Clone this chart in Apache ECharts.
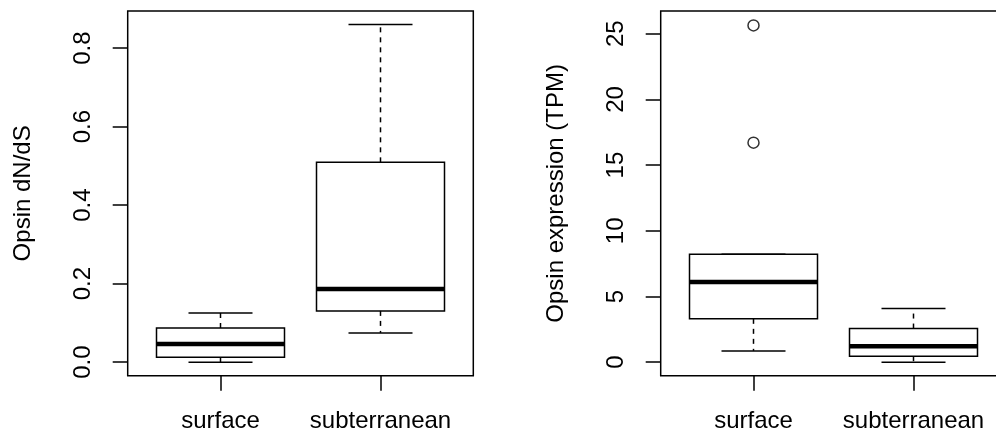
<!DOCTYPE html>
<html>
<head>
<meta charset="utf-8">
<script src="https://cdn.jsdelivr.net/npm/echarts@6/dist/echarts.min.js"></script>
<style>html,body{margin:0;padding:0;background:#fff}#c{width:996px;height:433px}</style>
</head>
<body>
<div id="c"></div>
<script>
// ---- data ----
const categories = ['surface', 'subterranean'];
// [lower whisker, Q1, median, Q3, upper whisker]
const dndsSurface = [0.0, 0.0127, 0.0466, 0.0873, 0.1255];
const dndsSubterranean = [0.0746, 0.1306, 0.1866, 0.509, 0.86];
const tpmSurface = [0.86, 3.30, 6.11, 8.21, 8.21];
const tpmSubterranean = [0.0, 0.46, 1.22, 2.56, 4.08];
const tpmSurfaceOutliers = [25.63, 16.71];
const tpmSubterraneanOutliers = [];
const dndsTicks = [0, 0.2, 0.4, 0.6, 0.8];
const tpmTicks = [0, 5, 10, 15, 20, 25];
const catPositions = [1, 2];

const FONT = 'Liberation Sans, Arial, Helvetica, sans-serif';
const LW = 1.5;

function boxRender(params, api) {
  const x = api.value(0);
  const lo = api.value(1), q1 = api.value(2), med = api.value(3), q3 = api.value(4), hi = api.value(5);
  const cx = api.coord([x, med])[0];
  const yLo = api.coord([x, lo])[1];
  const yQ1 = api.coord([x, q1])[1];
  const yMed = api.coord([x, med])[1];
  const yQ3 = api.coord([x, q3])[1];
  const yHi = api.coord([x, hi])[1];
  const halfBox = api.size([0.4, 0])[0];
  const halfCap = api.size([0.2, 0])[0];
  const stroke = {stroke: '#000', lineWidth: LW, fill: null};
  const dash = {stroke: '#000', lineWidth: LW, lineDash: [5, 5], fill: null};
  return {
    type: 'group',
    children: [
      {type: 'rect', shape: {x: cx - halfBox, y: yQ3, width: 2 * halfBox, height: yQ1 - yQ3}, style: {stroke: '#000', lineWidth: LW, fill: 'none'}},
      {type: 'line', shape: {x1: cx - halfBox, y1: yMed, x2: cx + halfBox, y2: yMed}, style: {stroke: '#000', lineWidth: 4.5, lineCap: 'butt'}},
      {type: 'line', shape: {x1: cx, y1: yQ3, x2: cx, y2: yHi}, style: dash},
      {type: 'line', shape: {x1: cx, y1: yQ1, x2: cx, y2: yLo}, style: dash},
      {type: 'line', shape: {x1: cx - halfCap, y1: yHi, x2: cx + halfCap, y2: yHi}, style: stroke},
      {type: 'line', shape: {x1: cx - halfCap, y1: yLo, x2: cx + halfCap, y2: yLo}, style: stroke}
    ]
  };
}

function xAxisCfg(gi) {
  return {
    type: 'value', gridIndex: gi, min: 0.42, max: 2.58,
    splitLine: {show: false},
    axisLine: {show: false, onZero: false},
    axisTick: {show: true, customValues: catPositions, length: 15, lineStyle: {color: '#000', width: LW}},
    axisLabel: {show: true, customValues: catPositions, formatter: v => categories[Math.round(v) - 1], fontSize: 24, color: '#000', fontFamily: FONT, margin: 34}
  };
}
function yAxisCfg(gi, min, max, ticks, fmt, name) {
  return {
    type: 'value', gridIndex: gi, min: min, max: max,
    splitLine: {show: false},
    axisLine: {show: false, onZero: false},
    axisTick: {show: true, customValues: ticks, length: 15, lineStyle: {color: '#000', width: LW}},
    axisLabel: {show: true, customValues: ticks, formatter: fmt, rotate: 90, fontSize: 24, color: '#000', fontFamily: FONT, margin: 32},
    name: name, nameLocation: 'middle', nameRotate: 90, nameGap: 92,
    nameTextStyle: {fontSize: 24, color: '#000', fontFamily: FONT}
  };
}

const chart = echarts.init(document.getElementById('c'), null, {renderer: 'canvas'});
chart.setOption({
  backgroundColor: '#fff',
  animation: false,
  grid: [
    {left: 127.7, top: 11, width: 345.6, height: 364.7, show: true, borderColor: '#000', borderWidth: LW, backgroundColor: 'transparent', containLabel: false, outerBoundsMode: 'none'},
    {left: 660.7, top: 11, width: 345.6, height: 364.7, show: true, borderColor: '#000', borderWidth: LW, backgroundColor: 'transparent', containLabel: false, outerBoundsMode: 'none'}
  ],
  xAxis: [xAxisCfg(0), xAxisCfg(1)],
  yAxis: [
    yAxisCfg(0, -0.0344, 0.8944, dndsTicks, v => v.toFixed(1), 'Opsin dN/dS'),
    yAxisCfg(1, -1.028, 26.73, tpmTicks, v => String(Math.round(v)), 'Opsin expression (TPM)')
  ],
  series: [
    {type: 'custom', xAxisIndex: 0, yAxisIndex: 0, renderItem: boxRender, encode: {x: 0, y: [1, 2, 3, 4, 5]},
      data: [[catPositions[0]].concat(dndsSurface), [catPositions[1]].concat(dndsSubterranean)], silent: true},
    {type: 'custom', xAxisIndex: 1, yAxisIndex: 1, renderItem: boxRender, encode: {x: 0, y: [1, 2, 3, 4, 5]},
      data: [[catPositions[0]].concat(tpmSurface), [catPositions[1]].concat(tpmSubterranean)], silent: true},
    {type: 'scatter', xAxisIndex: 1, yAxisIndex: 1, symbol: 'circle', symbolSize: 11,
      itemStyle: {color: 'rgba(0,0,0,0)', borderColor: '#000', borderWidth: LW},
      data: tpmSurfaceOutliers.map(v => [catPositions[0], v]).concat(tpmSubterraneanOutliers.map(v => [catPositions[1], v])), silent: true}
  ]
});
</script>
</body>
</html>
